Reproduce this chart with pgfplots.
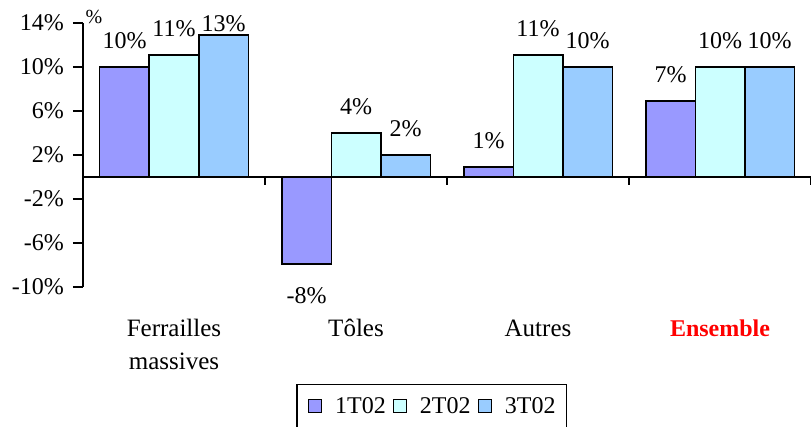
\documentclass[border=0pt]{standalone}
\usepackage{pgfplots}
\pgfplotsset{compat=1.18}
\usepackage{fontspec}
\setmainfont{Liberation Serif}
\definecolor{cA}{HTML}{9999FF}
\definecolor{cB}{HTML}{CCFFFF}
\definecolor{cC}{HTML}{99CCFF}
\begin{document}
\begin{tikzpicture}[font=\fontsize{24}{33}\selectfont]
\path[use as bounding box] (-83pt,-139pt) rectangle (728pt,287pt);
\begin{axis}[
  name=ax,
  at={(0pt,0pt)}, anchor=south west,
  scale only axis,
  width=728pt, height=264pt,
  xmin=-0.5, xmax=3.5, ymin=-10, ymax=14,
  axis y line*=left,
  axis x line*=bottom,
  x axis line style={draw=none},
  y axis line style={line width=1.5pt},
  xtick={0,1,2,3},
  xticklabels={{\begin{tabular}[t]{@{}c@{}}Ferrailles\\massives\end{tabular}}, Tôles, Autres, {\fontsize{24}{33}\selectfont\textcolor{red}{\textbf{Ensemble}}}},
  xtick style={draw=none},
  xticklabel style={anchor=base, yshift=-39pt, inner sep=0pt, font=\fontsize{25}{33}\selectfont},
  ytick={-10,-6,-2,2,6,10,14},
  ytick style={line width=1.5pt, black},
  tick align=outside,
  major tick length=10pt,
  yticklabel={\pgfmathprintnumber{\tick}\%},
  /pgf/number format/assume math mode=true,
  yticklabel style={anchor=east, inner sep=0pt, xshift=-9pt},
  ybar=0pt, bar width=49.5pt,
  clip=false,
  nodes near coords={\pgfmathprintnumber[fixed,precision=0]{\pgfplotspointmeta}\%},
  visualization depends on={rawy \as \rawy},
  every node near coord/.append style={anchor=base, inner sep=0pt, yshift={ifthenelse(\rawy<0,-40,ifthenelse(\rawy>12,4,18.5))}},
  legend columns=-1,
  legend style={at={(0.479,-0.367)}, anchor=north, draw=black, line width=1.5pt,
    inner xsep=11pt, inner ysep=13pt,
    /tikz/every even column/.append style={column sep=7pt},
    /tikz/every odd column/.append style={column sep=13pt},
    nodes={inner sep=0pt}},
  legend image code/.code={\draw[#1, draw=black, line width=1.2pt] (0pt,-6pt) rectangle (13pt,7pt);},
]
\addplot[fill=cA, draw=black, line width=1.5pt] coordinates {(0,10.0) (1,-7.9) (2,0.9) (3,6.9)};
\addplot[fill=cB, draw=black, line width=1.5pt] coordinates {(0,11.1) (1,4.0) (2,11.1) (3,10.0)};
\addplot[fill=cC, draw=black, line width=1.5pt] coordinates {(0,12.9) (1,2.0) (2,10.0) (3,10.0)};
\legend{1T02, 2T02, 3T02}
\draw[line width=1.5pt] (axis cs:-0.5,0) -- (axis cs:3.5,0);
\draw[line width=1.5pt] (axis cs:0.5,0) -- ([yshift=-8pt]axis cs:0.5,0);
\draw[line width=1.5pt] (axis cs:1.5,0) -- ([yshift=-8pt]axis cs:1.5,0);
\draw[line width=1.5pt] (axis cs:2.5,0) -- ([yshift=-8pt]axis cs:2.5,0);
\draw[line width=1.5pt] (axis cs:3.5,0) -- ([yshift=-8pt]axis cs:3.5,0);
\node[anchor=center, font=\fontsize{20}{22}\selectfont] at ([shift={(11pt,6pt)}]rel axis cs:0,1) {\%};
\end{axis}
\end{tikzpicture}
\end{document}
